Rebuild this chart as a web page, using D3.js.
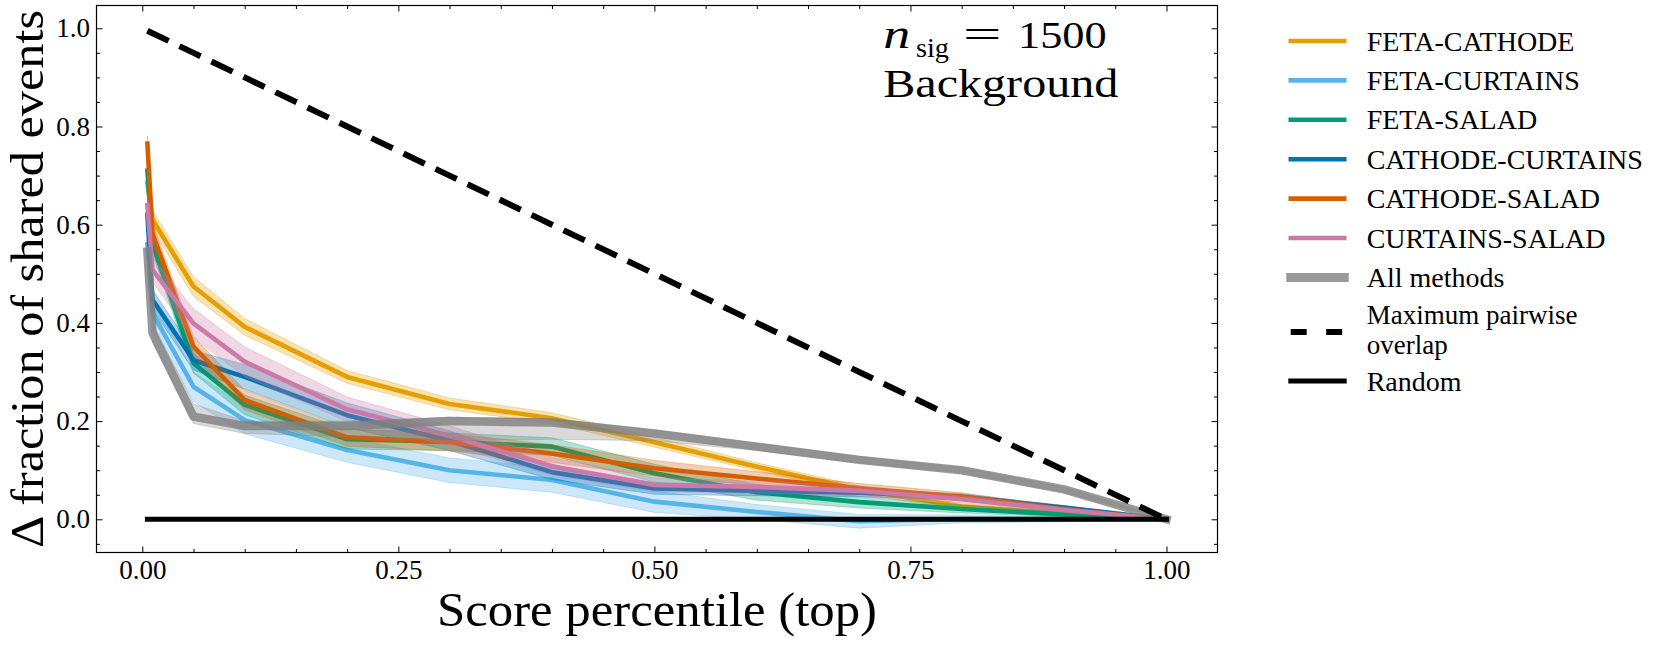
<!DOCTYPE html>
<html><head><meta charset="utf-8">
<script src="https://cdn.jsdelivr.net/npm/d3@7"></script>
<style>
html,body{margin:0;padding:0;background:#fff;}
svg{display:block;font-family:"Liberation Serif","Times New Roman","DejaVu Serif",serif;}
</style>
</head><body>
<svg id="chart" width="1660" height="645"></svg>
<script>
// ---------------- data ----------------
const percentiles = [0.005, 0.01, 0.05, 0.1, 0.2, 0.3, 0.4, 0.5, 0.6, 0.7, 0.8, 0.9, 1.0];

const seriesNames = ["FETA-CATHODE", "FETA-CURTAINS", "FETA-SALAD", "CATHODE-CURTAINS", "CATHODE-SALAD", "CURTAINS-SALAD"];

const fetaCathode     = [0.685, 0.610, 0.474, 0.392, 0.290, 0.235, 0.206, 0.157, 0.107, 0.060, 0.026, 0.012, 0.0];
const fetaCurtains    = [0.560, 0.420, 0.270, 0.202, 0.141, 0.100, 0.080, 0.036, 0.015, -0.004, 0.001, 0.0, 0.0];
const fetaSalad       = [0.710, 0.560, 0.318, 0.233, 0.163, 0.158, 0.148, 0.094, 0.055, 0.035, 0.021, 0.010, 0.0];
const cathodeCurtains = [0.620, 0.447, 0.324, 0.290, 0.212, 0.160, 0.096, 0.063, 0.058, 0.054, 0.046, 0.024, 0.0];
const cathodeSalad    = [0.765, 0.582, 0.352, 0.243, 0.167, 0.157, 0.134, 0.104, 0.083, 0.063, 0.046, 0.020, 0.0];
const curtainsSalad   = [0.640, 0.508, 0.399, 0.321, 0.224, 0.170, 0.108, 0.070, 0.066, 0.058, 0.041, 0.019, 0.0];

const fetaCathodeErr     = [0.020, 0.020, 0.020, 0.017, 0.013, 0.012, 0.011, 0.010, 0.008, 0.008, 0.006, 0.004, 0.0];
const fetaCurtainsErr    = [0.030, 0.030, 0.030, 0.028, 0.025, 0.025, 0.025, 0.022, 0.015, 0.014, 0.008, 0.005, 0.0];
const fetaSaladErr       = [0.020, 0.020, 0.020, 0.020, 0.020, 0.018, 0.018, 0.018, 0.016, 0.012, 0.008, 0.005, 0.0];
const cathodeCurtainsErr = [0.020, 0.020, 0.020, 0.025, 0.025, 0.020, 0.015, 0.012, 0.010, 0.008, 0.006, 0.004, 0.0];
const cathodeSaladErr    = [0.015, 0.020, 0.020, 0.020, 0.018, 0.018, 0.018, 0.016, 0.014, 0.010, 0.008, 0.005, 0.0];
const curtainsSaladErr   = [0.020, 0.025, 0.030, 0.030, 0.025, 0.020, 0.018, 0.014, 0.012, 0.010, 0.007, 0.005, 0.0];

const allMethods   = [0.545, 0.379, 0.209, 0.190, 0.190, 0.200, 0.197, 0.175, 0.148, 0.121, 0.100, 0.061, 0.0];
const allMethodsLo = [0.520, 0.360, 0.195, 0.175, 0.168, 0.160, 0.163, 0.160, 0.140, 0.115, 0.095, 0.055, 0.0];
const allMethodsHi = [0.560, 0.400, 0.235, 0.200, 0.200, 0.208, 0.205, 0.182, 0.155, 0.128, 0.105, 0.066, 0.0];

const xTickValues = [0, 0.25, 0.5, 0.75, 1.0];
const xTickLabels = ["0.00", "0.25", "0.50", "0.75", "1.00"];
const yTickValues = [0, 0.2, 0.4, 0.6, 0.8, 1.0];
const yTickLabels = ["0.0", "0.2", "0.4", "0.6", "0.8", "1.0"];

const xTitle = "Score percentile (top)";
const yTitle = "\u0394 fraction of shared events";
const legendExtra = ["All methods", "Maximum pairwise", "overlap", "Random"];
const annotationLines = ["1500", "Background"];

// ---------------- styles ----------------
const palette = ["#E69F00", "#56B4E9", "#009E73", "#0072B2", "#D55E00", "#CC79A7"];
const seriesValues = [fetaCathode, fetaCurtains, fetaSalad, cathodeCurtains, cathodeSalad, curtainsSalad];
const seriesErrs = [fetaCathodeErr, fetaCurtainsErr, fetaSaladErr, cathodeCurtainsErr, cathodeSaladErr, curtainsSaladErr];

const svg = d3.select("#chart");
const M = {left: 96.5, top: 5.5, right: 1217.5, bottom: 552.5};

const x = d3.scaleLinear().domain([-0.0447, 1.0498]).range([M.left, M.right]);
const y = d3.scaleLinear().domain([-0.0676, 1.0464]).range([M.bottom, M.top]);

const plot = svg.append("g");

const line = d3.line().x(d => x(d[0])).y(d => y(d[1]));
const area = d3.area().x(d => x(d[0])).y0(d => y(d[1])).y1(d => y(d[2]));

// series bands and lines
seriesValues.forEach((vals, i) => {
  const band = percentiles.map((p, k) => [p, vals[k] - seriesErrs[i][k], vals[k] + seriesErrs[i][k]]);
  plot.append("path").attr("d", area(band))
    .attr("fill", palette[i]).attr("fill-opacity", 0.3)
    .attr("stroke", palette[i]).attr("stroke-opacity", 0.3).attr("stroke-width", 1);
  plot.append("path").attr("d", line(percentiles.map((p, k) => [p, vals[k]])))
    .attr("fill", "none").attr("stroke", palette[i]).attr("stroke-width", 4.6)
    .attr("stroke-linejoin", "round").attr("stroke-linecap", "square");
});

// all methods
plot.append("path").attr("d", area(percentiles.map((p, k) => [p, allMethodsLo[k], allMethodsHi[k]])))
  .attr("fill", "#808080").attr("fill-opacity", 0.3)
  .attr("stroke", "#808080").attr("stroke-opacity", 0.3).attr("stroke-width", 1);
plot.append("path").attr("d", line(percentiles.map((p, k) => [p, allMethods[k]])))
  .attr("fill", "none").attr("stroke", "#808080").attr("stroke-opacity", 0.8).attr("stroke-width", 8.5)
  .attr("stroke-linejoin", "round").attr("stroke-linecap", "square");

// random
plot.append("path").attr("d", line(percentiles.map(p => [p, 0])))
  .attr("fill", "none").attr("stroke", "#000").attr("stroke-width", 5)
  .attr("stroke-linecap", "square");

// maximum pairwise overlap (1 - x)
plot.append("path").attr("d", line(percentiles.map(p => [p, 1 - p])))
  .attr("fill", "none").attr("stroke", "#000").attr("stroke-width", 6)
  .attr("stroke-dasharray", "23.5,12").attr("stroke-linecap", "butt");

// ---------------- axes ----------------
const fontTick = 27;
const xMinor = d3.range(0, 21).map(i => i * 0.05).filter(v => xTickValues.indexOf(+v.toFixed(2)) < 0 && v <= 1.0001);
const yMinor = d3.range(-1, 21).map(i => i * 0.05).filter(v => yTickValues.indexOf(+v.toFixed(2)) < 0 && v > -0.0676 && v < 1.0464);

function styleAxis(g) {
  g.select(".domain").remove();
  g.selectAll(".tick line").attr("stroke", "#000").attr("stroke-width", 1);
  g.selectAll(".tick text").attr("fill", "#000").attr("font-size", fontTick)
    .attr("font-family", "Liberation Serif, Times New Roman, serif");
}

svg.append("g").attr("transform", `translate(0,${M.bottom})`)
  .call(d3.axisBottom(x).tickValues(xTickValues).tickFormat((d, i) => xTickLabels[i]).tickSizeInner(-6).tickSizeOuter(0).tickPadding(7))
  .call(styleAxis);
svg.append("g").attr("transform", `translate(0,${M.bottom})`)
  .call(d3.axisBottom(x).tickValues(xMinor).tickFormat("").tickSizeInner(-3.5).tickSizeOuter(0))
  .call(styleAxis);
svg.append("g").attr("transform", `translate(0,${M.top})`)
  .call(d3.axisTop(x).tickValues(xTickValues).tickFormat("").tickSizeInner(-6).tickSizeOuter(0))
  .call(styleAxis);
svg.append("g").attr("transform", `translate(0,${M.top})`)
  .call(d3.axisTop(x).tickValues(xMinor).tickFormat("").tickSizeInner(-3.5).tickSizeOuter(0))
  .call(styleAxis);

svg.append("g").attr("transform", `translate(${M.left},0)`)
  .call(d3.axisLeft(y).tickValues(yTickValues).tickFormat((d, i) => yTickLabels[i]).tickSizeInner(-6).tickSizeOuter(0).tickPadding(6.5))
  .call(styleAxis);
svg.append("g").attr("transform", `translate(${M.left},0)`)
  .call(d3.axisLeft(y).tickValues(yMinor).tickFormat("").tickSizeInner(-3.5).tickSizeOuter(0))
  .call(styleAxis);
svg.append("g").attr("transform", `translate(${M.right},0)`)
  .call(d3.axisRight(y).tickValues(yTickValues).tickFormat("").tickSizeInner(-6).tickSizeOuter(0))
  .call(styleAxis);
svg.append("g").attr("transform", `translate(${M.right},0)`)
  .call(d3.axisRight(y).tickValues(yMinor).tickFormat("").tickSizeInner(-3.5).tickSizeOuter(0))
  .call(styleAxis);

// frame
svg.append("rect").attr("x", M.left).attr("y", M.top)
  .attr("width", M.right - M.left).attr("height", M.bottom - M.top)
  .attr("fill", "none").attr("stroke", "#000").attr("stroke-width", 1.2);

// axis titles
svg.append("text").attr("x", (M.left + M.right) / 2).attr("y", 626)
  .attr("text-anchor", "middle").attr("font-size", 49)
  .attr("textLength", 440).attr("lengthAdjust", "spacingAndGlyphs")
  .text(xTitle);
svg.append("text").attr("transform", `translate(43,${(M.top + M.bottom) / 2}) rotate(-90)`)
  .attr("text-anchor", "middle").attr("font-size", 46)
  .attr("textLength", 538).attr("lengthAdjust", "spacingAndGlyphs")
  .text(yTitle);

// annotation
const ann = svg.append("g");
ann.append("text").attr("x", 883.3).attr("y", 48.3).attr("font-size", 40).attr("font-style", "italic")
  .attr("textLength", 27).attr("lengthAdjust", "spacingAndGlyphs").text("n");
ann.append("text").attr("x", 916).attr("y", 57).attr("font-size", 28)
  .attr("textLength", 33).attr("lengthAdjust", "spacingAndGlyphs").text("sig");
ann.append("text").attr("x", 963).attr("y", 48.3).attr("font-size", 40)
  .attr("textLength", 38.7).attr("lengthAdjust", "spacingAndGlyphs").text("=");
ann.append("text").attr("x", 1018).attr("y", 48.3).attr("font-size", 37)
  .attr("textLength", 88.7).attr("lengthAdjust", "spacingAndGlyphs").text(annotationLines[0]);
ann.append("text").attr("x", 883.3).attr("y", 96.7).attr("font-size", 41)
  .attr("textLength", 235).attr("lengthAdjust", "spacingAndGlyphs").text(annotationLines[1]);

// ---------------- legend ----------------
const leg = svg.append("g");
const lx0 = 1290.8, lx1 = 1344.2, tx = 1366.7;
const rowY = [41, 80.4, 119.8, 159.2, 198.6, 238, 277.6];
seriesNames.forEach((name, i) => {
  leg.append("line").attr("x1", lx0).attr("x2", lx1).attr("y1", rowY[i]).attr("y2", rowY[i])
    .attr("stroke", palette[i]).attr("stroke-width", 4.6).attr("stroke-linecap", "square");
  leg.append("text").attr("x", tx).attr("y", rowY[i] + 9.6).attr("font-size", 28).text(name);
});
leg.append("line").attr("x1", lx0).attr("x2", lx1).attr("y1", rowY[6]).attr("y2", rowY[6])
  .attr("stroke", "#808080").attr("stroke-opacity", 0.8).attr("stroke-width", 9).attr("stroke-linecap", "square");
leg.append("text").attr("x", tx).attr("y", rowY[6] + 9.6).attr("font-size", 28).text(legendExtra[0]);

leg.append("line").attr("x1", 1290.7).attr("x2", 1345).attr("y1", 332).attr("y2", 332)
  .attr("stroke", "#000").attr("stroke-width", 6).attr("stroke-dasharray", "16,19.5");
leg.append("text").attr("x", tx).attr("y", 323.5).attr("font-size", 27).text(legendExtra[1]);
leg.append("text").attr("x", tx).attr("y", 353.5).attr("font-size", 27).text(legendExtra[2]);

leg.append("line").attr("x1", lx0).attr("x2", lx1).attr("y1", 381).attr("y2", 381)
  .attr("stroke", "#000").attr("stroke-width", 5).attr("stroke-linecap", "square");
leg.append("text").attr("x", tx).attr("y", 390.6).attr("font-size", 28).text(legendExtra[3]);
</script>
</body></html>
